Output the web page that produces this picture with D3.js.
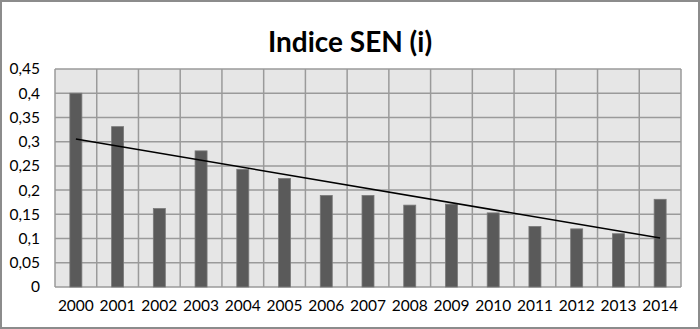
<!DOCTYPE html>
<html lang="it">
<head>
    <meta charset="UTF-8">
    <script src="https://cdn.jsdelivr.net/npm/d3@7"></script>
    <title>Indice SEN (i)</title>
    <style>
        body { margin: 0; background: #fff; }
        svg { display: block; }
        text { font-family: Lato, "Open Sans", sans-serif; fill: #000; }
        .title { font-size: 28px; font-weight: bold; text-anchor: middle; }
        .tick text { font-size: 15.5px; }
    </style>
</head>
<body>
<svg width="700" height="329"></svg>

<script>
    // values
    const years  = ["2000","2001","2002","2003","2004","2005","2006","2007","2008","2009","2010","2011","2012","2013","2014"];
    const values = [0.40, 0.331, 0.162, 0.281, 0.243, 0.224, 0.189, 0.189, 0.169, 0.171, 0.153, 0.125, 0.12, 0.11, 0.181];
    const yTicks = [0, 0.05, 0.1, 0.15, 0.2, 0.25, 0.3, 0.35, 0.4, 0.45];

    const W = 700, H = 329;
    const margin = {top: 69, right: 19, bottom: 42, left: 55};

    const svg = d3.select("svg");

    // outer frame
    svg.append("rect")
        .attr("x", 1).attr("y", 1)
        .attr("width", W - 2).attr("height", H - 2)
        .attr("fill", "#fff")
        .attr("stroke", "#8c8c8c").attr("stroke-width", 2);

    svg.append("text")
        .attr("class", "title")
        .attr("x", 350).attr("y", 52)
        .text("Indice SEN (i)");

    const innerW = W - margin.left - margin.right;
    const innerH = H - margin.top - margin.bottom;

    const g = svg.append("g")
        .attr("transform", `translate(${margin.left},${margin.top})`);

    const x = d3.scaleBand().domain(years).range([0, innerW]).paddingInner(0).paddingOuter(0);
    const y = d3.scaleLinear().domain([0, 0.45]).range([innerH, 0]);

    const it = d3.formatLocale({decimal: ",", thousands: ".", grouping: [3], currency: ["", "€"]});
    const fmt = it.format(".2~f");

    // plot background
    g.append("rect")
        .attr("width", innerW).attr("height", innerH)
        .attr("fill", "#e6e6e6");

    // horizontal grid
    g.selectAll("line.hgrid")
        .data(yTicks)
        .join("line")
        .attr("class", "hgrid")
        .attr("x1", 0).attr("x2", innerW)
        .attr("y1", d => y(d)).attr("y2", d => y(d))
        .attr("stroke", "#9a9a9a").attr("stroke-width", 1.5);

    // vertical grid at category boundaries
    const bounds = years.map(d => x(d)).concat([innerW]);
    g.selectAll("line.vgrid")
        .data(bounds)
        .join("line")
        .attr("class", "vgrid")
        .attr("x1", d => d).attr("x2", d => d)
        .attr("y1", 0).attr("y2", innerH)
        .attr("stroke", "#9a9a9a").attr("stroke-width", 1.5);

    // bars
    const barW = 12;
    g.selectAll("rect.bar")
        .data(values)
        .join("rect")
        .attr("class", "bar")
        .attr("x", (d, i) => x(years[i]) + x.bandwidth() / 2 - barW / 2)
        .attr("y", d => y(d))
        .attr("width", barW)
        .attr("height", d => innerH - y(d))
        .attr("fill", "#5a5a5a")
        .attr("stroke", "#7a7a7a").attr("stroke-width", 0.8);

    // linear trend line (least squares over the values)
    const n = values.length;
    const idx = d3.range(n);
    const mx = d3.mean(idx), my = d3.mean(values);
    const slope = d3.sum(idx, i => (i - mx) * (values[i] - my)) / d3.sum(idx, i => (i - mx) ** 2);
    const icpt = my - slope * mx;
    const cx = i => x(years[i]) + x.bandwidth() / 2;

    g.append("line")
        .attr("x1", cx(0)).attr("y1", y(icpt))
        .attr("x2", cx(n - 1)).attr("y2", y(icpt + slope * (n - 1)))
        .attr("stroke", "#000").attr("stroke-width", 1.5);

    // axes
    const yAxis = g.append("g")
        .call(d3.axisLeft(y).tickValues(yTicks).tickFormat(fmt).tickSize(0).tickPadding(15));
    yAxis.select(".domain").remove();

    const xAxis = g.append("g")
        .attr("transform", `translate(0,${innerH})`)
        .call(d3.axisBottom(x).tickSize(0).tickPadding(13));
    xAxis.select(".domain").remove();
</script>
</body>
</html>
